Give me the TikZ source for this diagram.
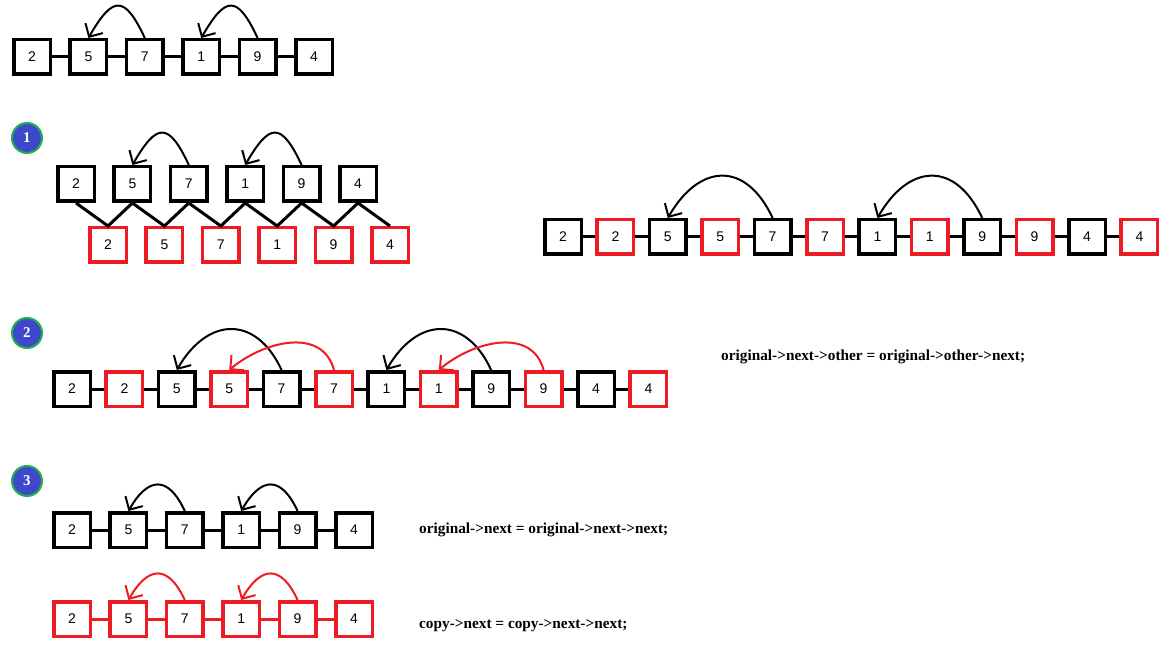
\documentclass[tikz,border=0pt]{standalone}
\usepackage{fontspec}
\setmainfont{Liberation Sans}
\newfontfamily\codefont{Liberation Serif}
\usepackage{tikz}
\usetikzlibrary{positioning, arrows.meta}
\definecolor{copyred}{HTML}{ED1C24}
\definecolor{dotblue}{HTML}{3F48CC}
\definecolor{dotgreen}{HTML}{22B14C}

\begin{document}
\begin{tikzpicture}[
        x=1pt, y=-1pt,
        node distance=16.4pt,
        every node/.style={align=center, font=\fontsize{14}{16}\selectfont, inner sep=1pt},
        onode/.style={draw, line width=3.5pt, fill=white, minimum width=36.5pt, minimum height=34.5pt},
        cnode/.style={onode, draw=copyred},
        link/.style={line width=3pt},
        ptr/.style={line width=2pt, -{Straight Barb[length=10pt,width=20pt]}},
        badge/.style={circle, draw=dotgreen, line width=2pt, fill=dotblue, text=white, minimum size=30pt, font=\codefont\bfseries\fontsize{15}{17}\selectfont},
        code/.style={anchor=west, font=\codefont\bfseries\fontsize{15.3}{18}\selectfont}
    ]
      \useasboundingbox (0,0) rectangle (1172,660);

      % the list
      \node[onode] (a1) at (32,57) {2};
      \node[onode, right=of a1] (a2) {5};
      \node[onode, right=of a2] (a3) {7};
      \node[onode, right=of a3] (a4) {1};
      \node[onode, right=of a4] (a5) {9};
      \node[onode, right=of a5] (a6) {4};
      \draw[link] (a1) -- (a2) -- (a3) -- (a4) -- (a5) -- (a6);
      \draw[ptr] (a3.north) to[out=115, in=60, looseness=2.2] (a2.north);
      \draw[ptr] (a5.north) to[out=115, in=60, looseness=2.2] (a4.north);

      % step 1
      \node[badge] (s1) at (27,138) {1};
      \node[onode] (b1) at (76,184) {2};
      \node[onode, right=of b1] (b2) {5};
      \node[onode, right=of b2] (b3) {7};
      \node[onode, right=of b3] (b4) {1};
      \node[onode, right=of b4] (b5) {9};
      \node[onode, right=of b5] (b6) {4};
      \node[cnode] (c1) at (108,245) {2};
      \node[cnode, right=of c1] (c2) {5};
      \node[cnode, right=of c2] (c3) {7};
      \node[cnode, right=of c3] (c4) {1};
      \node[cnode, right=of c4] (c5) {9};
      \node[cnode, right=of c5] (c6) {4};
      \draw[link] (b1.south) -- (c1.north) -- (b2.south) -- (c2.north) -- (b3.south) -- (c3.north)
        -- (b4.south) -- (c4.north) -- (b5.south) -- (c5.north) -- (b6.south) -- (c6.north);
      \draw[ptr] (b3.north) to[out=115, in=60, looseness=2.2] (b2.north);
      \draw[ptr] (b5.north) to[out=115, in=60, looseness=2.2] (b4.north);

      % merged list
      \node[onode] (m1) at (563,237) {2};
      \node[cnode, right=12.4pt of m1] (m2) {2};
      \node[onode, right=12.4pt of m2] (m3) {5};
      \node[cnode, right=12.4pt of m3] (m4) {5};
      \node[onode, right=12.4pt of m4] (m5) {7};
      \node[cnode, right=12.4pt of m5] (m6) {7};
      \node[onode, right=12.4pt of m6] (m7) {1};
      \node[cnode, right=12.4pt of m7] (m8) {1};
      \node[onode, right=12.4pt of m8] (m9) {9};
      \node[cnode, right=12.4pt of m9] (m10) {9};
      \node[onode, right=12.4pt of m10] (m11) {4};
      \node[cnode, right=12.4pt of m11] (m12) {4};
      \draw[link] (m1) -- (m2) -- (m3) -- (m4) -- (m5) -- (m6) -- (m7) -- (m8) -- (m9) -- (m10) -- (m11) -- (m12);
      \draw[ptr] (m5.north) to[out=115, in=60, looseness=1.55] (m3.north);
      \draw[ptr] (m9.north) to[out=115, in=60, looseness=1.55] (m7.north);

      % step 2
      \node[badge] (s2) at (27,333) {2};
      \node[onode] (d1) at (72,389) {2};
      \node[cnode, right=12.4pt of d1] (d2) {2};
      \node[onode, right=12.4pt of d2] (d3) {5};
      \node[cnode, right=12.4pt of d3] (d4) {5};
      \node[onode, right=12.4pt of d4] (d5) {7};
      \node[cnode, right=12.4pt of d5] (d6) {7};
      \node[onode, right=12.4pt of d6] (d7) {1};
      \node[cnode, right=12.4pt of d7] (d8) {1};
      \node[onode, right=12.4pt of d8] (d9) {9};
      \node[cnode, right=12.4pt of d9] (d10) {9};
      \node[onode, right=12.4pt of d10] (d11) {4};
      \node[cnode, right=12.4pt of d11] (d12) {4};
      \draw[link] (d1) -- (d2) -- (d3) -- (d4) -- (d5) -- (d6) -- (d7) -- (d8) -- (d9) -- (d10) -- (d11) -- (d12);
      \draw[ptr] (d5.north) to[out=115, in=60, looseness=1.5] (d3.north);
      \draw[ptr] (d9.north) to[out=115, in=60, looseness=1.5] (d7.north);
      \draw[ptr, copyred] (d6.north) to[out=105, in=40, looseness=1.1] (d4.north);
      \draw[ptr, copyred] (d10.north) to[out=105, in=40, looseness=1.1] (d8.north);
      \node[code] (t1) at (720,357) {original->next->other = original->other->next;};

      % step 3
      \node[badge] (s3) at (27,481) {3};
      \node[onode] (e1) at (72,530) {2};
      \node[onode, right=of e1] (e2) {5};
      \node[onode, right=of e2] (e3) {7};
      \node[onode, right=of e3] (e4) {1};
      \node[onode, right=of e4] (e5) {9};
      \node[onode, right=of e5] (e6) {4};
      \draw[link] (e1) -- (e2) -- (e3) -- (e4) -- (e5) -- (e6);
      \draw[ptr] (e3.north) to[out=115, in=60, looseness=1.8] (e2.north);
      \draw[ptr] (e5.north) to[out=115, in=60, looseness=1.8] (e4.north);
      \node[code] (t2) at (418,530) {original->next = original->next->next;};

      \node[cnode] (f1) at (72,619) {2};
      \node[cnode, right=of f1] (f2) {5};
      \node[cnode, right=of f2] (f3) {7};
      \node[cnode, right=of f3] (f4) {1};
      \node[cnode, right=of f4] (f5) {9};
      \node[cnode, right=of f5] (f6) {4};
      \draw[link, copyred] (f1) -- (f2) -- (f3) -- (f4) -- (f5) -- (f6);
      \draw[ptr, copyred] (f3.north) to[out=115, in=60, looseness=1.8] (f2.north);
      \draw[ptr, copyred] (f5.north) to[out=115, in=60, looseness=1.8] (f4.north);
      \node[code] (t3) at (418,626) {copy->next = copy->next->next;};
    \end{tikzpicture}
\end{document}
